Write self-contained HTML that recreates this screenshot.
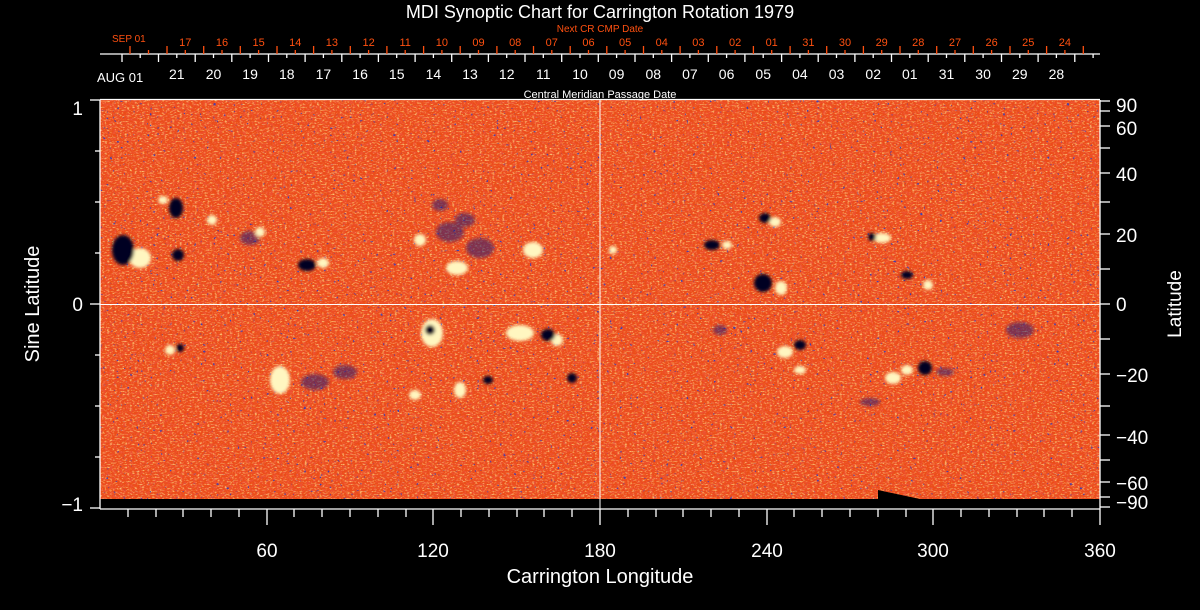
<!DOCTYPE html>
<html><head><meta charset="utf-8"><style>
html,body{margin:0;padding:0;background:#000;width:1200px;height:610px;overflow:hidden}
svg{display:block}
text{font-family:"Liberation Sans",sans-serif}
</style></head><body>
<svg width="1200" height="610" viewBox="0 0 1200 610" xmlns="http://www.w3.org/2000/svg">
<defs>
<filter id="nr" x="0" y="0" width="100%" height="100%">
<feTurbulence type="fractalNoise" baseFrequency="0.3 0.5" numOctaves="2" seed="4"/>
<feColorMatrix type="matrix" values="0 0 0 0 0.85  0 0 0 0 0.08  0 0 0 0 0.03  4 0 0 0 -1.7"/>
</filter>
<filter id="ny" x="0" y="0" width="100%" height="100%">
<feTurbulence type="fractalNoise" baseFrequency="0.4 0.7" numOctaves="2" seed="11"/>
<feColorMatrix type="matrix" values="0 0 0 0 0.98  0 0 0 0 0.62  0 0 0 0 0.2  3 0 0 0 -1.55"/>
</filter>
<filter id="nb" x="0" y="0" width="100%" height="100%">
<feTurbulence type="fractalNoise" baseFrequency="0.3" numOctaves="2" seed="23"/>
<feColorMatrix type="matrix" values="0 0 0 0 0.05  0 0 0 0 0.05  0 0 0 0 0.45  9 0 0 0 -6.5"/>
</filter>
<filter id="bl"><feGaussianBlur stdDeviation="1.5"/></filter>
</defs>
<rect width="1200" height="610" fill="#000"/>
<rect x="100" y="100" width="1000" height="400" fill="#ec4c18"/>
<rect x="100" y="100" width="1000" height="400" filter="url(#nr)"/>
<rect x="100" y="100" width="1000" height="400" filter="url(#ny)"/>
<rect x="100" y="100" width="1000" height="400" filter="url(#nb)"/>
<g filter="url(#bl)">
<g fill="#14147a" opacity="0.5">
<ellipse cx="450" cy="232" rx="14" ry="10"/>
<ellipse cx="480" cy="248" rx="14" ry="10"/>
<ellipse cx="465" cy="220" rx="10" ry="7"/>
<ellipse cx="250" cy="238" rx="10" ry="7"/>
<ellipse cx="315" cy="382" rx="14" ry="8"/>
<ellipse cx="345" cy="372" rx="12" ry="7"/>
<ellipse cx="1020" cy="330" rx="14" ry="8"/>
<ellipse cx="945" cy="372" rx="9" ry="4"/>
<ellipse cx="870" cy="402" rx="10" ry="4"/>
<ellipse cx="440" cy="205" rx="8" ry="6"/>
<ellipse cx="720" cy="330" rx="7" ry="5"/>
</g>
<g fill="#fff6c0">
<ellipse cx="140" cy="258" rx="11" ry="10"/>
<ellipse cx="163" cy="200" rx="5" ry="4"/>
<ellipse cx="212" cy="220" rx="5" ry="5"/>
<ellipse cx="260" cy="232" rx="5" ry="5"/>
<ellipse cx="323" cy="263" rx="6" ry="5"/>
<ellipse cx="420" cy="240" rx="6" ry="6"/>
<ellipse cx="457" cy="268" rx="11" ry="7"/>
<ellipse cx="533" cy="250" rx="10" ry="8"/>
<ellipse cx="170" cy="350" rx="5" ry="5"/>
<ellipse cx="432" cy="333" rx="11" ry="14"/>
<ellipse cx="520" cy="333" rx="14" ry="8"/>
<ellipse cx="557" cy="340" rx="6" ry="6"/>
<ellipse cx="280" cy="380" rx="10" ry="14"/>
<ellipse cx="415" cy="395" rx="6" ry="5"/>
<ellipse cx="460" cy="390" rx="6" ry="8"/>
<ellipse cx="775" cy="222" rx="6" ry="5"/>
<ellipse cx="727" cy="245" rx="5" ry="4"/>
<ellipse cx="781" cy="288" rx="6" ry="7"/>
<ellipse cx="882" cy="238" rx="9" ry="5"/>
<ellipse cx="928" cy="285" rx="5" ry="5"/>
<ellipse cx="613" cy="250" rx="4" ry="4"/>
<ellipse cx="785" cy="352" rx="8" ry="6"/>
<ellipse cx="893" cy="378" rx="8" ry="6"/>
<ellipse cx="907" cy="370" rx="6" ry="5"/>
<ellipse cx="800" cy="370" rx="6" ry="4"/>
</g>
<g fill="#000020">
<ellipse cx="123" cy="250" rx="11" ry="15"/>
<ellipse cx="176" cy="208" rx="7" ry="10"/>
<ellipse cx="178" cy="255" rx="6" ry="6"/>
<ellipse cx="307" cy="265" rx="9" ry="6"/>
<ellipse cx="430" cy="330" rx="5" ry="5"/>
<ellipse cx="548" cy="335" rx="7" ry="6"/>
<ellipse cx="180" cy="348" rx="4" ry="4"/>
<ellipse cx="488" cy="380" rx="5" ry="4"/>
<ellipse cx="572" cy="378" rx="5" ry="5"/>
<ellipse cx="765" cy="218" rx="6" ry="5"/>
<ellipse cx="712" cy="245" rx="8" ry="5"/>
<ellipse cx="763" cy="283" rx="9" ry="9"/>
<ellipse cx="872" cy="237" rx="4" ry="4"/>
<ellipse cx="907" cy="275" rx="6" ry="4"/>
<ellipse cx="800" cy="345" rx="6" ry="5"/>
<ellipse cx="925" cy="368" rx="7" ry="7"/>
</g>
</g>
<rect x="100" y="499" width="1000" height="10" fill="#000"/>
<polygon points="878,490 920,499 878,499" fill="#000"/>
<line x1="600" y1="100" x2="600" y2="509" stroke="#fff" stroke-width="1"/>
<line x1="100" y1="304.5" x2="1100" y2="304.5" stroke="#fff" stroke-width="1"/>
<g stroke="#fff" stroke-width="1.3" fill="none">
<line x1="100" y1="100" x2="100" y2="509"/>
<line x1="100" y1="509" x2="1100" y2="509"/>
<line x1="1100" y1="100" x2="1100" y2="509"/>
<line x1="100" y1="99.5" x2="1100" y2="99.5"/>
<line x1="90" y1="100" x2="100" y2="100"/>
<line x1="95" y1="151" x2="100" y2="151"/>
<line x1="95" y1="202" x2="100" y2="202"/>
<line x1="95" y1="253" x2="100" y2="253"/>
<line x1="90" y1="304" x2="100" y2="304"/>
<line x1="95" y1="355" x2="100" y2="355"/>
<line x1="95" y1="406" x2="100" y2="406"/>
<line x1="95" y1="457" x2="100" y2="457"/>
<line x1="90" y1="508" x2="100" y2="508"/>
<line x1="1100" y1="101" x2="1110" y2="101"/>
<line x1="1100" y1="111" x2="1110" y2="111"/>
<line x1="1100" y1="126" x2="1110" y2="126"/>
<line x1="1100" y1="148" x2="1110" y2="148"/>
<line x1="1100" y1="173" x2="1110" y2="173"/>
<line x1="1100" y1="202" x2="1110" y2="202"/>
<line x1="1100" y1="234" x2="1110" y2="234"/>
<line x1="1100" y1="269" x2="1110" y2="269"/>
<line x1="1100" y1="304" x2="1110" y2="304"/>
<line x1="1100" y1="339" x2="1110" y2="339"/>
<line x1="1100" y1="374" x2="1110" y2="374"/>
<line x1="1100" y1="406" x2="1110" y2="406"/>
<line x1="1100" y1="435" x2="1110" y2="435"/>
<line x1="1100" y1="460" x2="1110" y2="460"/>
<line x1="1100" y1="482" x2="1110" y2="482"/>
<line x1="1100" y1="497" x2="1110" y2="497"/>
<line x1="1100" y1="507" x2="1110" y2="507"/>
<line x1="128" y1="509" x2="128" y2="517"/><line x1="156" y1="509" x2="156" y2="517"/><line x1="183" y1="509" x2="183" y2="517"/><line x1="211" y1="509" x2="211" y2="517"/><line x1="239" y1="509" x2="239" y2="517"/>
<line x1="267" y1="509" x2="267" y2="525"/>
<line x1="294" y1="509" x2="294" y2="517"/><line x1="322" y1="509" x2="322" y2="517"/><line x1="350" y1="509" x2="350" y2="517"/><line x1="378" y1="509" x2="378" y2="517"/><line x1="406" y1="509" x2="406" y2="517"/>
<line x1="433" y1="509" x2="433" y2="525"/>
<line x1="461" y1="509" x2="461" y2="517"/><line x1="489" y1="509" x2="489" y2="517"/><line x1="517" y1="509" x2="517" y2="517"/><line x1="544" y1="509" x2="544" y2="517"/><line x1="572" y1="509" x2="572" y2="517"/>
<line x1="600" y1="509" x2="600" y2="525"/>
<line x1="628" y1="509" x2="628" y2="517"/><line x1="656" y1="509" x2="656" y2="517"/><line x1="683" y1="509" x2="683" y2="517"/><line x1="711" y1="509" x2="711" y2="517"/><line x1="739" y1="509" x2="739" y2="517"/>
<line x1="767" y1="509" x2="767" y2="525"/>
<line x1="794" y1="509" x2="794" y2="517"/><line x1="822" y1="509" x2="822" y2="517"/><line x1="850" y1="509" x2="850" y2="517"/><line x1="878" y1="509" x2="878" y2="517"/><line x1="906" y1="509" x2="906" y2="517"/>
<line x1="933" y1="509" x2="933" y2="525"/>
<line x1="961" y1="509" x2="961" y2="517"/><line x1="989" y1="509" x2="989" y2="517"/><line x1="1017" y1="509" x2="1017" y2="517"/><line x1="1044" y1="509" x2="1044" y2="517"/><line x1="1072" y1="509" x2="1072" y2="517"/>
<line x1="1100" y1="509" x2="1100" y2="525"/>
<line x1="100" y1="54" x2="1100" y2="54"/>
<line x1="122" y1="54" x2="122" y2="62"/>
</g>
<g stroke="#fff" stroke-width="1.3">
<path d="M158.5 54v8M195.2 54v8M231.8 54v8M268.5 54v8M305.1 54v8M341.8 54v8M378.4 54v8M415.1 54v8M451.7 54v8M488.4 54v8M525 54v8M561.7 54v8M598.3 54v8M635 54v8M671.6 54v8M708.3 54v8M744.9 54v8M781.6 54v8M818.2 54v8M854.9 54v8M891.5 54v8M928.2 54v8M964.8 54v8M1001.5 54v8M1038.1 54v8M1074.8 54v8"/>
<path d="M140.2 54v4M176.8 54v4M213.5 54v4M250.1 54v4M286.8 54v4M323.4 54v4M360.1 54v4M396.7 54v4M433.4 54v4M470 54v4M506.7 54v4M543.3 54v4M580 54v4M616.6 54v4M653.3 54v4M689.9 54v4M726.6 54v4M763.2 54v4M799.9 54v4M836.5 54v4M873.2 54v4M909.8 54v4M946.5 54v4M983.1 54v4M1019.8 54v4M1056.4 54v4M1093.1 54v4"/>
</g>
<g stroke="#ff5010" stroke-width="1.3">
<path d="M130 54v-8M167 54v-8M203.7 54v-8M240.3 54v-8M277 54v-8M313.6 54v-8M350.3 54v-8M386.9 54v-8M423.6 54v-8M460.2 54v-8M496.9 54v-8M533.5 54v-8M570.2 54v-8M606.8 54v-8M643.5 54v-8M680.1 54v-8M716.8 54v-8M753.4 54v-8M790.1 54v-8M826.7 54v-8M863.4 54v-8M900 54v-8M936.7 54v-8M973.3 54v-8M1010 54v-8M1046.6 54v-8M1083.3 54v-8"/>
<path d="M148.5 54v-4M185.3 54v-4M222 54v-4M258.6 54v-4M295.3 54v-4M331.9 54v-4M368.6 54v-4M405.2 54v-4M441.9 54v-4M478.5 54v-4M515.2 54v-4M551.8 54v-4M588.5 54v-4M625.1 54v-4M661.8 54v-4M698.4 54v-4M735.1 54v-4M771.7 54v-4M808.4 54v-4M845 54v-4M881.7 54v-4M918.3 54v-4M955 54v-4M991.6 54v-4M1028.3 54v-4M1064.9 54v-4"/>
</g>
<text x="600" y="18" fill="#fff" font-size="18" text-anchor="middle">MDI Synoptic Chart for Carrington Rotation 1979</text>
<text x="600" y="32" fill="#ff5010" font-size="10" text-anchor="middle">Next CR CMP Date</text>
<text x="112" y="42" fill="#ff5010" font-size="10">SEP 01</text>
<g fill="#ff5010" font-size="11" text-anchor="middle">
<text x="185.3" y="46">17</text><text x="222" y="46">16</text><text x="258.6" y="46">15</text><text x="295.3" y="46">14</text><text x="331.9" y="46">13</text><text x="368.6" y="46">12</text><text x="405.2" y="46">11</text><text x="441.9" y="46">10</text><text x="478.5" y="46">09</text><text x="515.2" y="46">08</text><text x="551.8" y="46">07</text><text x="588.5" y="46">06</text><text x="625.1" y="46">05</text><text x="661.8" y="46">04</text><text x="698.4" y="46">03</text><text x="735.1" y="46">02</text><text x="771.7" y="46">01</text><text x="808.4" y="46">31</text><text x="845" y="46">30</text><text x="881.7" y="46">29</text><text x="918.3" y="46">28</text><text x="955" y="46">27</text><text x="991.6" y="46">26</text><text x="1028.3" y="46">25</text><text x="1064.9" y="46">24</text>
</g>
<text x="97" y="82" fill="#fff" font-size="13">AUG 01</text>
<g fill="#fff" font-size="14" text-anchor="middle">
<text x="176.8" y="79">21</text><text x="213.5" y="79">20</text><text x="250.1" y="79">19</text><text x="286.8" y="79">18</text><text x="323.4" y="79">17</text><text x="360.1" y="79">16</text><text x="396.7" y="79">15</text><text x="433.4" y="79">14</text><text x="470" y="79">13</text><text x="506.7" y="79">12</text><text x="543.3" y="79">11</text><text x="580" y="79">10</text><text x="616.6" y="79">09</text><text x="653.3" y="79">08</text><text x="689.9" y="79">07</text><text x="726.6" y="79">06</text><text x="763.2" y="79">05</text><text x="799.9" y="79">04</text><text x="836.5" y="79">03</text><text x="873.2" y="79">02</text><text x="909.8" y="79">01</text><text x="946.5" y="79">31</text><text x="983.1" y="79">30</text><text x="1019.8" y="79">29</text><text x="1056.4" y="79">28</text>
</g>
<text x="600" y="98" fill="#fff" font-size="11" text-anchor="middle">Central Meridian Passage Date</text>
<g fill="#fff" font-size="19" text-anchor="end">
<text x="83" y="115">1</text>
<text x="83" y="311">0</text>
<text x="83" y="511">−1</text>
</g>
<g fill="#fff" font-size="19">
<text x="1116" y="112">90</text>
<text x="1116" y="135">60</text>
<text x="1116" y="181">40</text>
<text x="1116" y="242">20</text>
<text x="1116" y="311">0</text>
<text x="1116" y="382">−20</text>
<text x="1116" y="444">−40</text>
<text x="1116" y="490">−60</text>
<text x="1116" y="509">−90</text>
</g>
<g fill="#fff" font-size="19" text-anchor="middle">
<text x="267" y="557">60</text><text x="433" y="557">120</text><text x="600" y="557">180</text><text x="767" y="557">240</text><text x="933" y="557">300</text><text x="1100" y="557">360</text>
</g>
<text x="600" y="583" fill="#fff" font-size="20" text-anchor="middle">Carrington Longitude</text>
<text transform="translate(39,304) rotate(-90)" fill="#fff" font-size="20" text-anchor="middle">Sine Latitude</text>
<text transform="translate(1181,304) rotate(-90)" fill="#fff" font-size="19" text-anchor="middle">Latitude</text>
</svg>
</body></html>
